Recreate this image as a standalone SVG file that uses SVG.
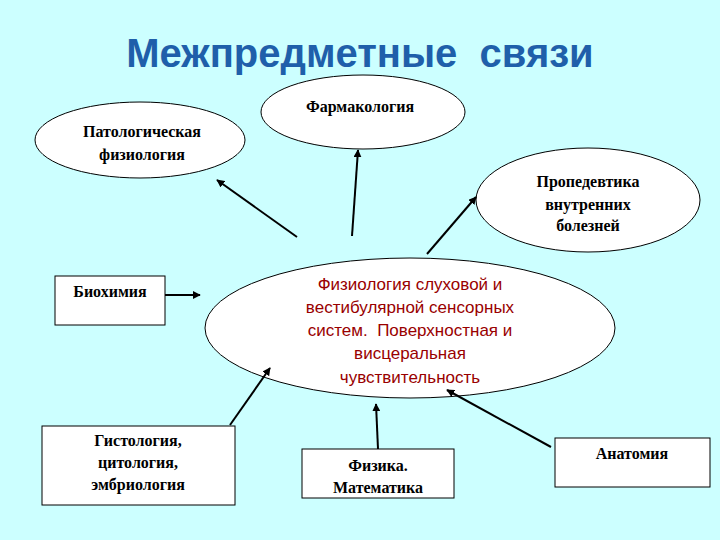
<svg xmlns="http://www.w3.org/2000/svg" width="720" height="540" viewBox="0 0 720 540">
<style>
.n{fill:#fff;stroke:#000;stroke-width:1}
.t{font-family:"Liberation Serif",serif;font-weight:bold;font-size:16px;text-anchor:middle;fill:#000}
.c{font-family:"Liberation Sans",sans-serif;font-size:17px;text-anchor:middle;fill:#990000}
.e{stroke:#000;stroke-width:2;fill:none;marker-end:url(#a)}
</style>
<defs><marker id="a" viewBox="0 0 10 10" refX="9" refY="5" markerWidth="4" markerHeight="4" orient="auto"><path d="M0,0L10,5L0,10z" fill="#000"/></marker></defs>
<rect width="720" height="540" fill="#ccffff"/>
<text x="360" y="67" font-family="Liberation Sans,sans-serif" font-weight="bold" font-size="40" fill="#1f5faa" text-anchor="middle" xml:space="preserve">Межпредметные  связи</text>
<g id="farm"><ellipse class="n" cx="363" cy="112" rx="102" ry="37"/><text class="t" x="360" y="112">Фармакология</text></g>
<g id="pato"><ellipse class="n" cx="140" cy="140" rx="105" ry="38"/><text class="t" x="142" y="137">Патологическая</text><text class="t" x="142" y="160">физиология</text></g>
<g id="prop"><ellipse class="n" cx="588" cy="200" rx="112" ry="52"/><text class="t" x="588" y="187">Пропедевтика</text><text class="t" x="588" y="210">внутренних</text><text class="t" x="588" y="231">болезней</text></g>
<g id="center"><ellipse class="n" cx="410" cy="328" rx="205" ry="70"/>
<text class="c" x="410" y="290">Физиология слуховой и</text>
<text class="c" x="410" y="313">вестибулярной сенсорных</text>
<text class="c" x="410" y="336" xml:space="preserve">систем.  Поверхностная и</text>
<text class="c" x="410" y="359">висцеральная</text>
<text class="c" x="410" y="383">чувствительность</text></g>
<g id="bio"><rect class="n" x="55" y="276" width="110" height="49"/><text class="t" x="110" y="297">Биохимия</text></g>
<g id="gist"><rect class="n" x="42" y="426" width="193" height="79"/><text class="t" x="138" y="446">Гистология,</text><text class="t" x="138" y="468">цитология,</text><text class="t" x="138" y="490">эмбриология</text></g>
<g id="fiz"><rect class="n" x="302" y="449" width="152" height="49"/><text class="t" x="378" y="471">Физика.</text><text class="t" x="378" y="493">Математика</text></g>
<g id="anat"><rect class="n" x="555" y="438" width="155" height="49"/><text class="t" x="632" y="459">Анатомия</text></g>
<g id="connectors">
<line class="e" x1="297" y1="237" x2="217" y2="180"/>
<line class="e" x1="352" y1="236" x2="358" y2="150"/>
<line class="e" x1="427" y1="254" x2="476" y2="197"/>
<line class="e" x1="165" y1="295" x2="200" y2="295"/>
<line class="e" x1="230" y1="425" x2="270" y2="368"/>
<line class="e" x1="378" y1="449" x2="376" y2="404"/>
<line class="e" x1="551" y1="447" x2="447" y2="390"/>
</g>
</svg>
